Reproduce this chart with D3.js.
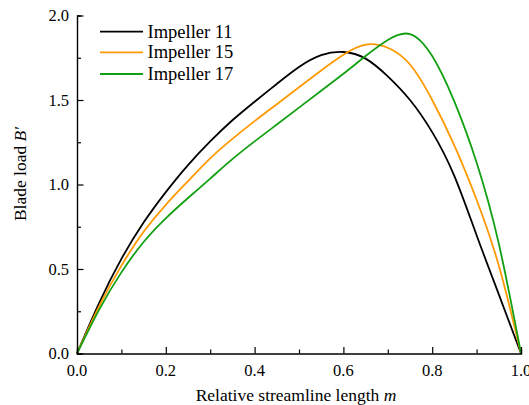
<!DOCTYPE html>
<html>
<head>
<meta charset="utf-8">
<script src="https://cdn.jsdelivr.net/npm/d3@7"></script>
<style>
  body { margin: 0; background: #fff; }
</style>
</head>
<body>
<script>
// relative streamline length m
var mValues = [0, 0.05, 0.1, 0.15, 0.2, 0.25, 0.3, 0.35, 0.4, 0.45, 0.5,
               0.55, 0.6, 0.65, 0.7, 0.75, 0.8, 0.85, 0.9, 0.95, 1.0];

// blade load B' for each impeller
var impeller11 = [0, 0.30, 0.56, 0.775, 0.955, 1.115, 1.255, 1.38, 1.49, 1.595, 1.695,
                  1.765, 1.784, 1.745, 1.64, 1.50, 1.31, 1.05, 0.70, 0.35, 0];
var impeller15 = [0, 0.28, 0.52, 0.72, 0.88, 1.02, 1.155, 1.27, 1.375, 1.475, 1.575,
                  1.675, 1.768, 1.828, 1.809, 1.71, 1.50, 1.23, 0.91, 0.52, 0];
var impeller17 = [0, 0.26, 0.48, 0.66, 0.80, 0.92, 1.035, 1.15, 1.255, 1.355, 1.455,
                  1.555, 1.655, 1.76, 1.855, 1.89, 1.76, 1.49, 1.13, 0.65, 0];

var seriesNames = ["Impeller 11", "Impeller 15", "Impeller 17"];
var seriesColors = ["#000000", "#ff9900", "#12a012"];
var xTicks = [0, 0.2, 0.4, 0.6, 0.8, 1.0];
var yTicks = [0, 0.5, 1.0, 1.5, 2.0];

var width = 529, height = 405;
var font = "'Liberation Serif', 'Times New Roman', serif";
var svg = d3.select(document.body).append("svg")
  .attr("width", width).attr("height", height)
  .attr("font-family", font);

var x = d3.scaleLinear().domain([0, 1]).range([77, 521]);
var y = d3.scaleLinear().domain([0, 2]).range([353.5, 15.5]);

// curves
var allSeries = [impeller11, impeller15, impeller17];
var line = d3.line()
  .x(function(d) { return x(d[0]); })
  .y(function(d) { return y(d[1]); })
  .curve(d3.curveNatural);

svg.append("g").selectAll("path")
  .data(allSeries)
  .enter().append("path")
  .attr("d", function(s) { return line(d3.zip(mValues, s)); })
  .attr("fill", "none")
  .attr("stroke", function(d, i) { return seriesColors[i]; })
  .attr("stroke-width", 1.8);

// axes (ticks point inward)
var xAxis = svg.append("g")
  .attr("transform", "translate(0," + y(0) + ")")
  .call(d3.axisBottom(x).tickValues(d3.range(0, 1.001, 0.1)).tickSize(-4).tickFormat(""));
xAxis.selectAll(".tick line").filter(function(d) {
  return xTicks.some(function(t) { return Math.abs(t - d) < 1e-6; });
}).attr("y2", -6.5);

var yAxis = svg.append("g")
  .attr("transform", "translate(" + x(0) + ",0)")
  .call(d3.axisLeft(y).tickValues(d3.range(0, 2.001, 0.25)).tickSize(-4).tickFormat(""));
yAxis.selectAll(".tick line").filter(function(d) {
  return yTicks.some(function(t) { return Math.abs(t - d) < 1e-6; });
}).attr("x2", 6.5);

[xAxis, yAxis].forEach(function(a) {
  a.select(".domain").attr("stroke", "#000").attr("stroke-width", 1.4);
  a.selectAll(".tick line").attr("stroke", "#000").attr("stroke-width", 1.2);
});

// tick labels
svg.append("g").selectAll("text")
  .data(xTicks)
  .enter().append("text")
  .attr("x", function(d) { return x(d); })
  .attr("y", 376)
  .attr("text-anchor", "middle")
  .attr("font-size", 16.5)
  .text(function(d) { return d.toFixed(1); });

svg.append("g").selectAll("text")
  .data(yTicks)
  .enter().append("text")
  .attr("x", 69)
  .attr("y", function(d) { return y(d) + 5.5; })
  .attr("text-anchor", "end")
  .attr("font-size", 16.5)
  .text(function(d) { return d.toFixed(1); });

// axis titles
var xTitle = svg.append("text")
  .attr("x", 296).attr("y", 401)
  .attr("text-anchor", "middle")
  .attr("font-size", 17.5);
xTitle.append("tspan").text("Relative streamline length ");
xTitle.append("tspan").attr("font-style", "italic").text("m");

var yTitle = svg.append("text")
  .attr("transform", "translate(26,174) rotate(-90)")
  .attr("text-anchor", "middle")
  .attr("font-size", 17.5);
yTitle.append("tspan").text("Blade load ");
yTitle.append("tspan").attr("font-style", "italic").text("B\u2032");

// legend
var legendY = [31.7, 52.3, 74];
var legend = svg.append("g").selectAll("g")
  .data(seriesNames)
  .enter().append("g")
  .attr("transform", function(d, i) { return "translate(100," + legendY[i] + ")"; });
legend.append("line")
  .attr("x1", 0).attr("x2", 43)
  .attr("stroke", function(d, i) { return seriesColors[i]; })
  .attr("stroke-width", 1.8);
legend.append("text")
  .attr("x", 47.5).attr("y", 6)
  .attr("font-size", 18.5)
  .text(function(d) { return d; });
</script>
</body>
</html>
